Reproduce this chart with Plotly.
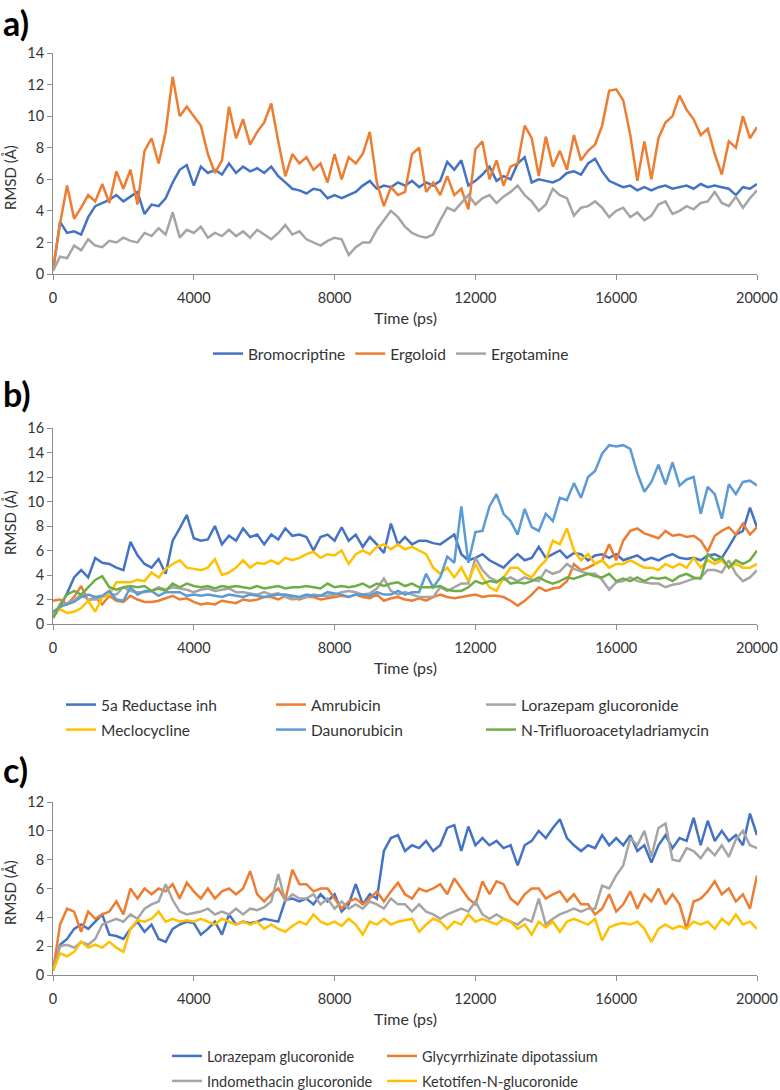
import plotly.graph_objects as go

# ---------------- data (RMSD in Å, sampled every 200 ps) ----------------
time_ps = list(range(0, 20001, 200))
x_tick_vals = [0, 4000, 8000, 12000, 16000, 20000]
x_tick_text = ["0", "4000", "8000", "12000", "16000", "20000"]

# panel a
bromocriptine = [
    0.2, 3.3, 2.6, 2.7, 2.5, 3.6, 4.3, 4.5, 4.7, 5.0,
    4.6, 4.9, 5.2, 3.8, 4.4, 4.3, 4.8, 5.8, 6.6, 6.9,
    5.6, 6.8, 6.4, 6.6, 6.3, 7.0, 6.4, 6.8, 6.5, 6.7,
    6.4, 6.8, 6.2, 5.8, 5.4, 5.3, 5.1, 5.4, 5.3, 4.8,
    5.0, 4.8, 5.0, 5.2, 5.6, 5.9, 5.4, 5.6, 5.5, 5.8,
    5.6, 5.9, 5.5, 5.8, 5.6, 5.9, 7.1, 6.6, 7.2, 5.6,
    5.9, 6.3, 6.8, 5.9, 6.2, 6.0, 7.0, 7.4, 5.8, 6.0,
    5.9, 5.8, 6.0, 6.4, 6.5, 6.3, 7.0, 7.3, 6.5, 5.9,
    5.7, 5.5, 5.6, 5.3, 5.5, 5.3, 5.5, 5.6, 5.4, 5.5,
    5.6, 5.4, 5.7, 5.5, 5.6, 5.5, 5.4, 5.0, 5.5, 5.4,
    5.7]
ergoloid = [
    0.3, 3.2, 5.6, 3.5, 4.2, 5.0, 4.6, 5.7, 4.5, 6.5,
    5.4, 6.6, 4.4, 7.8, 8.6, 7.0, 9.0, 12.5, 10.0, 10.6,
    10.0, 9.4, 7.6, 6.4, 7.2, 10.6, 8.6, 9.8, 8.2, 9.0,
    9.6, 10.8, 8.4, 6.2, 7.6, 7.0, 7.4, 6.6, 7.0, 5.8,
    7.6, 6.0, 7.4, 7.0, 7.6, 9.0, 5.8, 4.3, 5.5, 5.0,
    5.2, 7.6, 8.0, 5.2, 5.8, 5.0, 6.2, 5.0, 5.4, 4.1,
    7.9, 8.4, 6.0, 7.2, 5.6, 6.8, 7.0, 9.4, 8.6, 6.2,
    8.7, 6.8, 7.8, 6.6, 8.8, 7.2, 7.8, 8.2, 9.4, 11.6,
    11.7, 11.0, 8.8, 5.9, 8.4, 6.0, 8.6, 9.6, 10.0, 11.3,
    10.4, 9.8, 8.8, 9.2, 7.6, 6.3, 8.4, 8.0, 10.0, 8.6,
    9.3]
ergotamine = [
    0.2, 1.1, 1.0, 1.8, 1.5, 2.2, 1.8, 1.7, 2.1, 2.0,
    2.3, 2.1, 2.0, 2.6, 2.4, 2.9, 2.5, 3.9, 2.3, 2.8,
    2.6, 3.0, 2.3, 2.6, 2.4, 2.8, 2.4, 2.7, 2.3, 2.8,
    2.5, 2.2, 2.6, 3.1, 2.5, 2.7, 2.2, 2.0, 1.8, 2.1,
    2.3, 2.2, 1.2, 1.7, 2.0, 2.0, 2.8, 3.4, 4.0, 3.6,
    3.0, 2.6, 2.4, 2.3, 2.5, 3.4, 4.2, 4.0, 4.5, 5.0,
    4.4, 4.8, 5.0, 4.5, 4.9, 5.2, 5.6, 5.0, 4.6, 4.0,
    4.4, 5.4, 5.0, 4.8, 3.7, 4.2, 4.3, 4.6, 4.2, 3.6,
    4.0, 4.2, 3.6, 3.9, 3.4, 3.7, 4.4, 4.6, 3.8, 4.0,
    4.3, 4.1, 4.5, 4.6, 5.2, 4.5, 4.3, 4.9, 4.2, 4.8,
    5.3]

# panel b
reductase_inh = [
    0.5, 1.4, 2.5, 3.8, 4.4, 3.8, 5.4, 5.0, 4.9, 4.6,
    4.4, 6.7, 5.6, 4.9, 4.6, 5.3, 4.1, 6.8, 7.8, 8.9,
    7.0, 6.8, 6.9, 8.0, 6.5, 7.2, 6.8, 7.8, 7.1, 7.3,
    6.5, 7.3, 6.9, 7.8, 7.2, 7.3, 7.1, 6.0, 7.1, 7.3,
    6.8, 7.9, 6.8, 7.3, 6.3, 7.1, 6.5, 5.8, 8.2, 6.5,
    7.1, 6.5, 6.8, 6.8, 6.6, 6.5, 6.9, 7.3, 5.7, 5.2,
    5.4, 5.7, 5.2, 4.9, 4.6, 5.2, 5.7, 5.2, 5.4, 6.3,
    5.4, 5.7, 6.0, 5.4, 5.8, 5.7, 5.2, 5.6, 5.7, 5.4,
    5.7, 5.2, 5.4, 5.6, 5.2, 5.4, 5.2, 5.5, 5.7, 5.4,
    5.3, 5.4, 5.2, 5.6, 5.7, 5.4, 6.3, 7.3, 7.6, 9.5,
    7.9]
amrubicin = [
    1.9, 2.0, 1.6, 2.2, 3.1, 1.9, 2.2, 1.6, 2.3, 1.9,
    1.8, 2.3, 2.0, 1.8, 1.8, 1.9, 2.1, 2.3, 2.0, 2.1,
    1.8, 1.6, 1.7, 1.6, 1.9, 1.8, 1.7, 2.0, 1.9, 2.0,
    2.2, 2.2, 2.0, 2.3, 2.1, 2.0, 2.2, 2.2, 2.0, 2.1,
    2.2, 2.3, 2.2, 2.4, 2.2, 2.1, 2.4, 1.9, 2.1, 2.2,
    2.0, 1.9, 2.1, 1.9, 2.2, 2.4, 2.2, 2.1, 2.2, 2.3,
    2.4, 2.2, 2.3, 2.3, 2.2, 1.9, 1.5, 1.9, 2.4, 3.0,
    2.7, 2.9, 3.0, 3.5, 4.9, 4.4, 4.6, 4.9, 5.2, 6.5,
    5.2, 6.8, 7.6, 7.8, 7.4, 7.2, 7.0, 7.6, 7.2, 7.3,
    7.1, 7.2, 6.8, 5.9, 7.2, 7.6, 7.9, 7.3, 8.2, 7.3,
    7.9]
lorazepam_b = [
    0.8, 1.4, 1.7, 1.9, 2.4, 2.0, 2.0, 2.2, 2.4, 2.4,
    3.0, 2.7, 2.6, 2.6, 2.7, 3.0, 2.8, 3.0, 2.9, 2.8,
    2.6, 2.8, 2.9, 2.7, 2.8, 2.9, 2.6, 2.6, 2.5, 2.4,
    2.6, 2.4, 2.5, 2.2, 2.0, 2.1, 2.2, 2.4, 2.3, 2.3,
    2.4, 2.6, 2.7, 2.6, 2.4, 2.5, 2.9, 3.7, 2.7, 2.4,
    2.6, 2.4, 2.2, 2.2, 2.2, 3.0, 2.7, 3.0, 3.3, 3.3,
    5.4, 4.4, 3.8, 3.5, 3.6, 3.8, 3.5, 3.8, 3.6, 3.5,
    4.4, 4.1, 4.3, 4.9, 4.5, 4.3, 4.1, 4.1, 3.6, 2.8,
    3.4, 3.5, 3.8, 3.5, 3.4, 3.3, 3.3, 3.0, 3.2, 3.3,
    3.5, 3.7, 3.8, 4.4, 4.4, 4.2, 5.2, 4.1, 3.5, 3.8,
    4.4]
meclocycline = [
    0.8, 1.2, 0.9, 1.0, 1.3, 1.9, 1.0, 2.2, 2.4, 3.4,
    3.4, 3.4, 3.6, 3.5, 4.2, 3.8, 4.5, 4.9, 5.2, 4.6,
    4.5, 4.4, 4.6, 5.3, 4.0, 4.2, 4.6, 5.2, 4.6, 5.0,
    4.9, 5.2, 4.9, 5.4, 5.2, 5.4, 5.7, 5.9, 5.4, 5.7,
    5.6, 6.0, 4.9, 5.7, 6.0, 5.7, 6.3, 6.5, 6.1, 6.5,
    6.1, 6.3, 6.0, 5.7, 4.6, 4.1, 4.6, 3.8, 4.6, 3.5,
    4.9, 3.8, 3.0, 2.7, 3.8, 4.6, 4.6, 4.1, 3.8, 4.6,
    5.2, 6.8, 6.5, 7.8, 6.0, 5.2, 5.7, 4.9, 5.2, 4.6,
    4.9, 4.9, 5.2, 4.9, 4.6, 4.6, 4.4, 4.9, 4.6, 4.9,
    4.6, 5.4, 4.6, 5.2, 4.9, 5.2, 4.6, 4.9, 4.6, 4.6,
    4.9]
daunorubicin = [
    1.0, 1.4, 1.6, 1.8, 2.2, 2.4, 2.2, 2.3, 2.7, 2.0,
    1.9, 3.0, 2.4, 2.7, 2.7, 2.3, 2.6, 2.6, 2.6, 2.3,
    2.4, 2.3, 2.4, 2.3, 2.2, 2.4, 2.3, 2.2, 2.4, 2.3,
    2.2, 2.3, 2.4, 2.4, 2.3, 2.2, 2.4, 2.3, 2.3, 2.6,
    2.5, 2.4, 2.2, 2.4, 2.4, 2.3, 2.6, 2.4, 2.4, 2.7,
    2.4, 2.6, 2.6, 4.1, 3.0, 3.8, 5.5, 5.0, 9.6, 5.0,
    7.5, 7.6, 9.6, 10.6, 9.0, 8.4, 7.3, 9.4, 7.9, 7.6,
    9.0, 8.4, 10.3, 10.1, 11.5, 10.3, 12.0, 12.5, 13.9, 14.6,
    14.5, 14.6, 14.3, 12.3, 10.8, 11.6, 13.0, 11.4, 13.2, 11.3,
    11.8, 12.0, 9.0, 11.2, 10.6, 8.6, 11.4, 10.6, 11.6, 11.7,
    11.3]
n_trifluoroacetyladriamycin = [
    0.5, 1.6, 2.4, 2.7, 2.4, 3.0, 3.6, 3.9, 3.0, 2.8,
    3.0, 3.1, 3.0, 3.1, 2.7, 2.9, 2.7, 3.3, 3.0, 3.3,
    3.1, 3.0, 3.1, 2.9, 3.1, 3.0, 3.1, 3.0, 2.9, 3.1,
    2.9, 3.0, 3.1, 2.9, 3.0, 3.0, 3.1, 3.0, 2.9, 3.3,
    3.0, 3.1, 3.0, 3.1, 3.3, 3.0, 3.3, 3.1, 3.3, 3.4,
    3.1, 3.3, 3.0, 3.0, 3.0, 3.1, 2.8, 2.7, 2.7, 3.0,
    3.5, 3.3, 3.5, 3.4, 3.8, 3.3, 3.4, 3.3, 3.5, 3.8,
    3.5, 3.3, 3.5, 3.8, 3.7, 3.9, 4.1, 3.9, 3.8, 4.1,
    3.5, 3.7, 3.5, 3.8, 3.5, 3.8, 3.7, 3.8, 3.5, 3.9,
    4.1, 3.8, 3.7, 5.7, 5.2, 5.4, 4.6, 5.2, 4.9, 5.2,
    6.0]

# panel c
lorazepam_c = [
    0.3, 2.1, 2.5, 3.2, 3.5, 3.2, 3.7, 4.2, 2.8, 2.7,
    2.5, 3.2, 3.7, 3.0, 3.5, 2.5, 2.3, 3.2, 3.5, 3.7,
    3.6, 2.8, 3.2, 3.7, 2.8, 4.2, 3.5, 3.7, 3.6, 3.7,
    3.9, 3.8, 3.7, 5.2, 5.3, 5.1, 5.3, 4.9, 5.6, 5.1,
    5.6, 4.4, 4.9, 6.3, 4.9, 5.6, 5.3, 8.6, 9.5, 9.7,
    8.6, 9.0, 8.8, 9.3, 8.6, 9.0, 10.2, 10.4, 8.6, 10.3,
    9.0, 9.5, 9.0, 9.3, 8.8, 9.0, 7.6, 9.0, 9.3, 10.0,
    9.5, 10.2, 10.8, 9.5, 9.0, 8.6, 9.0, 8.8, 9.7, 9.0,
    9.5, 9.0, 9.7, 8.6, 9.0, 7.8, 9.0, 9.7, 8.8, 9.5,
    9.3, 10.9, 9.0, 10.7, 9.3, 10.0, 9.3, 9.7, 9.0, 11.2,
    9.7]
glycyrrhizinate = [
    0.3, 3.5, 4.6, 4.4, 3.0, 4.4, 3.9, 4.2, 4.4, 5.1,
    4.2, 6.0, 5.3, 6.0, 5.6, 6.0, 5.8, 6.3, 5.3, 6.4,
    5.8, 5.3, 6.0, 5.3, 5.8, 6.0, 5.6, 6.0, 7.2, 5.6,
    5.1, 5.6, 6.0, 5.2, 7.3, 6.3, 6.3, 5.8, 6.0, 6.0,
    5.3, 4.6, 5.1, 5.3, 4.9, 5.3, 5.8, 5.1, 5.8, 6.4,
    5.6, 5.3, 6.0, 5.8, 6.0, 6.3, 5.6, 6.7, 6.0, 5.3,
    4.9, 6.5, 5.6, 6.5, 6.3, 5.3, 4.9, 5.6, 6.0, 6.0,
    5.3, 5.6, 5.8, 5.1, 5.6, 4.9, 4.9, 4.2, 4.6, 5.6,
    4.4, 4.9, 5.8, 4.6, 5.6, 5.1, 6.0, 4.9, 5.6, 4.9,
    3.2, 5.1, 5.3, 5.8, 6.5, 5.6, 6.0, 5.1, 5.6, 4.6,
    6.9]
indomethacin = [
    0.3, 2.0, 2.1, 1.9, 2.3, 2.1, 2.5, 3.5, 3.7, 3.9,
    3.7, 4.2, 3.9, 4.6, 4.9, 5.1, 6.3, 5.2, 4.4, 4.2,
    4.3, 4.4, 4.6, 4.2, 4.4, 4.2, 4.6, 4.2, 4.6, 4.5,
    4.7, 5.1, 7.0, 5.1, 5.6, 5.3, 5.3, 5.6, 4.9, 5.3,
    4.6, 5.1, 4.6, 4.9, 4.6, 5.1, 4.9, 4.6, 5.3, 4.9,
    4.9, 4.4, 4.9, 4.4, 4.2, 3.9, 4.2, 4.4, 4.6, 4.4,
    5.1, 4.2, 3.9, 4.2, 3.9, 3.7, 3.5, 3.9, 3.7, 5.3,
    3.5, 3.9, 4.2, 4.4, 4.6, 4.4, 4.6, 4.6, 6.2, 6.0,
    6.9, 7.6, 9.5, 9.0, 10.0, 8.2, 10.2, 10.5, 8.0, 7.9,
    8.8, 8.6, 8.1, 8.8, 8.3, 9.0, 8.2, 9.4, 10.0, 9.0,
    8.8]
ketotifen = [
    0.3, 1.5, 1.3, 1.6, 2.3, 1.9, 2.1, 1.9, 2.3, 1.9,
    1.6, 3.2, 3.8, 3.7, 3.9, 4.4, 3.7, 3.9, 3.7, 3.8,
    3.7, 3.9, 3.7, 3.5, 3.9, 3.7, 3.5, 3.7, 3.5, 3.7,
    3.2, 3.5, 3.2, 3.0, 3.4, 3.7, 3.5, 4.2, 3.7, 3.5,
    3.7, 3.4, 3.9, 3.5, 2.8, 3.7, 3.5, 3.9, 3.5, 3.7,
    3.8, 3.9, 3.0, 3.5, 3.9, 3.7, 3.2, 3.7, 3.5, 4.2,
    3.7, 3.9, 3.7, 3.5, 3.9, 3.7, 3.2, 3.5, 2.8, 3.7,
    3.3, 3.7, 3.0, 3.7, 3.9, 3.7, 3.5, 3.9, 2.4, 3.3,
    3.5, 3.6, 3.5, 3.7, 3.2, 2.3, 3.2, 3.5, 3.2, 3.4,
    3.2, 3.7, 3.5, 3.7, 3.2, 3.9, 3.5, 4.2, 3.5, 3.7,
    3.2]

panel_a = [("Bromocriptine", bromocriptine, "#4472C4"),
           ("Ergoloid", ergoloid, "#ED7D31"),
           ("Ergotamine", ergotamine, "#A5A5A5")]
panel_b = [("5a Reductase inh", reductase_inh, "#4472C4"),
           ("Amrubicin", amrubicin, "#ED7D31"),
           ("Lorazepam glucoronide", lorazepam_b, "#A5A5A5"),
           ("Meclocycline", meclocycline, "#FFC000"),
           ("Daunorubicin", daunorubicin, "#5B9BD5"),
           ("N-Trifluoroacetyladriamycin", n_trifluoroacetyladriamycin, "#70AD47")]
panel_c = [("Lorazepam glucoronide", lorazepam_c, "#4472C4"),
           ("Glycyrrhizinate dipotassium", glycyrrhizinate, "#ED7D31"),
           ("Indomethacin glucoronide", indomethacin, "#A5A5A5"),
           ("Ketotifen-N-glucoronide", ketotifen, "#FFC000")]

for _, vals, _ in panel_a + panel_b + panel_c:
    assert len(vals) == len(time_ps), len(vals)

# ---------------- layout helpers ----------------
W, H = 780, 1090
FONT = "Lato, 'Open Sans', sans-serif"
TXT = "#333333"
AX = "#8C8C8C"

def fx(p):
    return p / W

def fy(p):
    return 1 - p / H

X_LEFT, X_RIGHT = 53, 757
# (y pixel of 0, y pixel of top, y max)
panels = [(274, 53, 14), (624, 428, 16), (975, 802, 12)]

# legend slots: panel a uses one horizontal legend; b and c use one legend per entry
b_slots = [(61, 705), (271, 705), (481, 705), (61, 730), (271, 730), (481, 730)]
c_slots = [(167, 1056), (382, 1056), (167, 1081), (382, 1081)]

fig = go.Figure()

def add_series(series, xa, ya, legend_ids):
    for (name, vals, color), lg in zip(series, legend_ids):
        fig.add_trace(go.Scatter(
            x=time_ps, y=vals, name=name, mode="lines",
            line=dict(color=color, width=2.5),
            xaxis=xa, yaxis=ya, legend=lg,
        ))

b_ids = ["legend%d" % (2 + i) for i in range(len(b_slots))]
c_ids = ["legend%d" % (2 + len(b_slots) + i) for i in range(len(c_slots))]

add_series(panel_a, "x", "y", ["legend"] * 3)
add_series(panel_b, "x2", "y2", b_ids)
add_series(panel_c, "x3", "y3", c_ids)

layout = dict(
    width=W, height=H, autosize=False,
    margin=dict(l=0, r=0, t=0, b=0, autoexpand=False),
    paper_bgcolor="white", plot_bgcolor="white",
    font=dict(family=FONT, size=14, color=TXT),
    showlegend=True,
)

for i, (y0, y1, ymax) in enumerate(panels):
    sfx = "" if i == 0 else str(i + 1)
    layout["xaxis" + sfx] = dict(
        domain=[fx(X_LEFT), fx(X_RIGHT)], range=[0, 20000],
        anchor="y" + sfx, tickvals=x_tick_vals, ticktext=x_tick_text,
        showline=True, linecolor=AX, linewidth=1,
        ticks="outside", ticklen=5, tickcolor=AX,
        showgrid=False, zeroline=False, automargin=False,
        tickfont=dict(size=14.5, color=TXT, family=FONT),
        ticklabelstandoff=6,
    )
    layout["yaxis" + sfx] = dict(
        domain=[fy(y0), fy(y1)], range=[0, ymax],
        anchor="x" + sfx, tickvals=list(range(0, ymax + 1, 2)),
        showline=True, linecolor=AX, linewidth=1,
        ticks="outside", ticklen=5, tickcolor=AX,
        showgrid=False, zeroline=False, automargin=False,
        tickfont=dict(size=14.5, color=TXT, family=FONT),
    )

def leg(xpx, ypx, size, xanchor="left"):
    return dict(orientation="h", x=fx(xpx), xanchor=xanchor, y=fy(ypx), yanchor="middle",
                font=dict(size=size, color=TXT, family=FONT), bgcolor="rgba(0,0,0,0)",
                itemwidth=30, itemclick=False, itemdoubleclick=False)

layout["legend"] = leg(391, 354, 15.5, xanchor="center")
for lid, (xp, yp) in zip(b_ids, b_slots):
    layout[lid] = leg(xp, yp, 15.5)
for lid, (xp, yp) in zip(c_ids, c_slots):
    layout[lid] = leg(xp, yp, 14.5)

annotations = []
for lab, ypx in [("a)", 22), ("b)", 394), ("c)", 769)]:
    annotations.append(dict(text="<b>" + lab + "</b>", x=fx(1), y=fy(ypx), xref="paper", yref="paper",
                            xanchor="left", yanchor="middle", showarrow=False,
                            font=dict(size=34, color="#000000", family=FONT)))
for ypx in [317, 667, 1018]:
    annotations.append(dict(text="Time (ps)", x=fx(405), y=fy(ypx), xref="paper", yref="paper",
                            xanchor="center", yanchor="middle", showarrow=False,
                            font=dict(size=16, color=TXT, family=FONT)))
for ypx in [178, 523, 893]:
    annotations.append(dict(text="RMSD (Å)", x=fx(10), y=fy(ypx), xref="paper", yref="paper",
                            xanchor="center", yanchor="middle", showarrow=False, textangle=-90,
                            font=dict(size=15, color=TXT, family=FONT)))
layout["annotations"] = annotations

fig.update_layout(**layout)
fig.write_html("out.html", config={"displayModeBar": False},
               post_script="document.body.style.margin='0';document.body.style.overflow='hidden';")
